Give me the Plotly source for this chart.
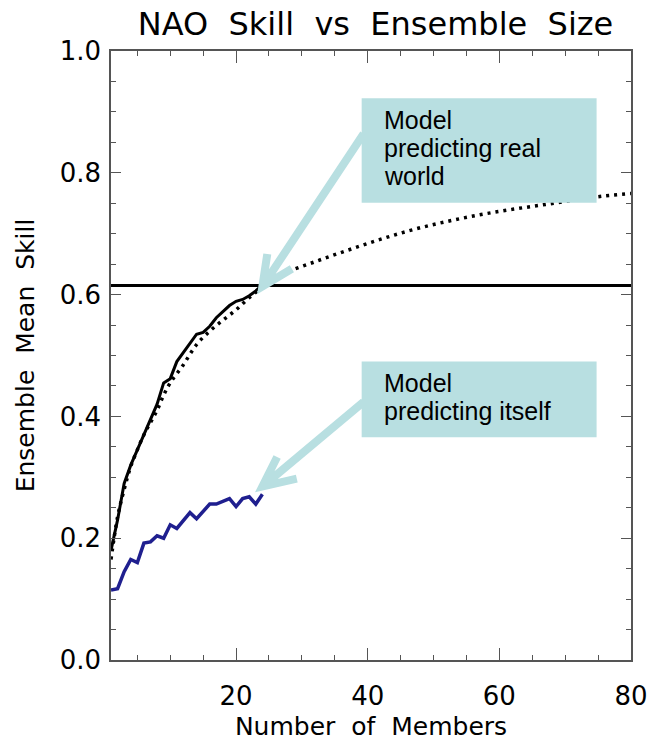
import plotly.graph_objects as go

# ---------------- data ----------------
members = list(range(1, 25))
skill_real_world = [0.18, 0.23, 0.29, 0.32, 0.345, 0.37, 0.395, 0.42, 0.455, 0.462,
                    0.49, 0.505, 0.52, 0.535, 0.538, 0.548, 0.562, 0.572, 0.582, 0.589,
                    0.592, 0.598, 0.606, 0.616]
skill_itself = [0.115, 0.117, 0.145, 0.165, 0.16, 0.192, 0.194, 0.204, 0.2, 0.222,
                0.216, 0.23, 0.242, 0.232, 0.245, 0.256, 0.256, 0.26, 0.265, 0.252,
                0.265, 0.268, 0.256, 0.272]
members_theory = [1, 2, 3, 4, 5, 6, 7, 8, 9, 10, 12, 14, 16, 18, 20, 22, 24, 27, 32,
                  37, 42, 47, 52, 57, 62, 67, 72, 76, 80]
skill_theory = [0.165, 0.235, 0.28, 0.318, 0.345, 0.37, 0.39, 0.41, 0.435, 0.455,
                0.485, 0.518, 0.54, 0.558, 0.575, 0.595, 0.612, 0.633, 0.654, 0.673,
                0.691, 0.707, 0.72, 0.731, 0.74, 0.748, 0.756, 0.762, 0.766]
obs_members = [1, 80]
obs_skill = [0.615, 0.615]

title_text = "NAO\u00a0\u00a0Skill\u00a0\u00a0vs\u00a0\u00a0Ensemble\u00a0\u00a0Size"
xlabel = "Number\u00a0\u00a0of\u00a0\u00a0Members"
ylabel = "Ensemble\u00a0\u00a0Mean\u00a0\u00a0Skill"
box1_lines = ["Model", "predicting real", "world"]
box2_lines = ["Model", "predicting itself"]

# ---------------- layout geometry (pixels) ----------------
W, H = 660, 748
L, R, T, B = 111, 20, 51, 79
PW, PH = W - L - R, H - T - B


def px(x):
    return (x - L) / PW


def py(y):
    return (H - B - y) / PH


fig = go.Figure()
fig.add_trace(go.Scatter(x=obs_members, y=obs_skill, mode="lines",
                         line=dict(color="black", width=3)))
fig.add_trace(go.Scatter(x=members_theory, y=skill_theory, mode="lines",
                         line=dict(color="black", width=3.5, dash="3px,5px", shape="spline")))
fig.add_trace(go.Scatter(x=members, y=skill_real_world, mode="lines",
                         line=dict(color="black", width=3)))
fig.add_trace(go.Scatter(x=members, y=skill_itself, mode="lines",
                         line=dict(color="#1f1f8f", width=3.5)))

teal = "#b8dfe1"
shapes = [
    dict(type="rect", xref="paper", yref="paper", x0=px(366), x1=px(605), y0=py(205), y1=py(99),
         fillcolor=teal, line=dict(width=0), layer="above"),
    dict(type="rect", xref="paper", yref="paper", x0=px(366), x1=px(605), y0=py(443), y1=py(366),
         fillcolor=teal, line=dict(width=0), layer="above"),
]


def arrow_path(tail, tip, a1, a2):
    pts = lambda p: f"{px(p[0])},{py(p[1])}"
    return f"M{pts(tail)} L{pts(tip)} M{pts(a1)} L{pts(tip)} L{pts(a2)}"


shapes.append(dict(type="path", xref="paper", yref="paper",
                   path=arrow_path((368, 135), (265, 290), (270, 257), (295, 272)),
                   line=dict(color=teal, width=8), layer="above"))
shapes.append(dict(type="path", xref="paper", yref="paper",
                   path=arrow_path((368, 407), (265, 493), (280, 463), (300, 485)),
                   line=dict(color=teal, width=8), layer="above"))

annotations = []
box_font = dict(family="Liberation Sans", size=25, color="black")
for txt, base in zip(box1_lines, [130, 158, 187]):
    annotations.append(dict(text=txt, xref="paper", yref="paper", x=px(387), y=py(base - 9),
                            xanchor="left", yanchor="middle", showarrow=False, font=box_font))
for txt, base in zip(box2_lines, [397, 425]):
    annotations.append(dict(text=txt, xref="paper", yref="paper", x=px(387), y=py(base - 9),
                            xanchor="left", yanchor="middle", showarrow=False, font=box_font))

axcol = "#555555"
fig.update_layout(
    width=W, height=H,
    margin=dict(l=L, r=R, t=T, b=B, pad=0),
    paper_bgcolor="white", plot_bgcolor="white",
    showlegend=False,
    font=dict(family="DejaVu Sans", color="black"),
    title=dict(text=title_text, x=(L + PW / 2) / W, xanchor="center",
               y=1 - 24 / H, yanchor="middle", yref="container",
               font=dict(family="DejaVu Sans", size=32, color="black")),
    shapes=shapes,
    annotations=annotations,
    xaxis=dict(range=[1, 80], tick0=0, dtick=20, ticks="inside", ticklen=12, tickwidth=1,
               tickcolor=axcol, showline=True, linecolor=axcol, linewidth=1.5, mirror="ticks",
               showgrid=False, zeroline=False, ticklabelstandoff=12,
               tickfont=dict(family="DejaVu Sans", size=26, color="black"),
               minor=dict(dtick=5, tick0=0, ticks="inside", ticklen=5, tickcolor=axcol, showgrid=False),
               title=dict(text=xlabel, font=dict(family="DejaVu Sans", size=25, color="black"), standoff=8)),
    yaxis=dict(range=[0, 1], tick0=0, dtick=0.2, tickformat=".1f", ticks="inside", ticklen=10,
               tickwidth=1, tickcolor=axcol, showline=True, linecolor=axcol, linewidth=1.5,
               mirror="ticks", showgrid=False, zeroline=False, ticklabelstandoff=3,
               tickfont=dict(family="DejaVu Sans", size=26, color="black"),
               minor=dict(dtick=0.05, tick0=0, ticks="inside", ticklen=5, tickcolor=axcol, showgrid=False),
               title=dict(text=ylabel, font=dict(family="DejaVu Sans", size=25, color="black"), standoff=18)),
)

pin_page = (
    "document.documentElement.style.margin='0';"
    "document.documentElement.style.padding='0';"
    "document.documentElement.style.overflow='hidden';"
    "document.body.style.margin='0';"
    "document.body.style.padding='0';"
    "document.body.style.overflow='hidden';"
    "var gd=document.getElementsByClassName('plotly-graph-div')[0];"
    "gd.style.position='fixed';gd.style.left='0px';gd.style.top='0px';"
)

fig.write_html("out.html", config={"displayModeBar": False}, post_script=pin_page)
